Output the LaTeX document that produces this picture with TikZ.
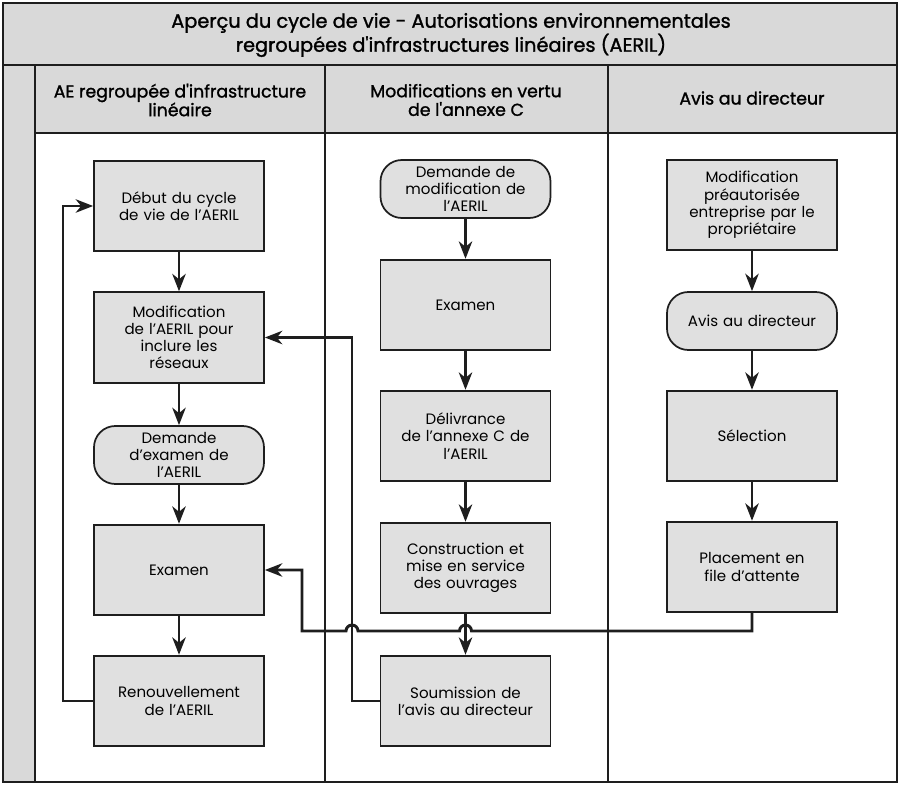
\documentclass[tikz,border=0pt]{standalone}
\usepackage{fontspec}
\setmainfont{Poppins}
\newfontfamily\headfont[FakeBold=1.4]{Poppins}
\usetikzlibrary{arrows.meta,calc}
\definecolor{boxgrey}{HTML}{E0E0E0}
\definecolor{bandgrey}{HTML}{D9D9D9}
\definecolor{inkline}{HTML}{1E1E1E}
\begin{document}
\begin{tikzpicture}[x=0.75pt,y=0.75pt,
    box/.style={draw=inkline,fill=boxgrey,line width=1.3pt,minimum width=127.5pt,minimum height=68pt,
      text width=122pt,align=center,inner sep=2pt,font=\fontsize{11.3}{12.9}\selectfont},
    pill/.style={box,rounded corners=16pt,minimum height=43.5pt},
    head/.style={align=center,font=\headfont\fontsize{13}{14}\selectfont},
    flow/.style={draw=inkline,line width=2.2pt,-{Stealth[length=13pt,width=10pt,inset=4pt]}},
    lane/.style={draw=inkline,line width=1.5pt}]
  \useasboundingbox (0,0) rectangle (900,-785);
  % swimlanes
  \fill[bandgrey] (3,-3) rectangle (897,-65);
  \fill[bandgrey] (3,-65) rectangle (35,-782);
  \fill[bandgrey] (35,-65) rectangle (897,-133);
  \draw[lane] (3,-3) rectangle (897,-782);
  \draw[lane] (3,-65) -- (897,-65);
  \draw[lane] (35,-65) -- (35,-782);
  \draw[lane] (35,-133) -- (897,-133);
  \draw[lane] (325,-65) -- (325,-782);
  \draw[lane] (608,-65) -- (608,-782);
  \node[head,font=\headfont\fontsize{14.5}{18}\selectfont] (title) at (451,-35)
    {Aperçu du cycle de vie - Autorisations environnementales\\regroupées d'infrastructures linéaires (AERIL)};
  \node[head] (lane1) at (180,-100) {AE regroupée d'infrastructure\\linéaire};
  \node[head] (lane2) at (466,-100) {Modifications en vertu\\de l'annexe C};
  \node[head] (lane3) at (752,-98) {Avis au directeur};
  % first lane
  \node[box] (debut) at (179,-206) {Début du cycle\\de vie de l'AERIL};
  \node[box] (modif) at (179,-337.5) {Modification\\de l'AERIL pour\\inclure les\\réseaux};
  \node[pill] (demex) at (179,-455) {Demande\\d'examen de\\l'AERIL};
  \node[box] (exam1) at (179,-570) {Examen};
  \node[box] (renew) at (179,-701) {Renouvellement\\de l'AERIL};
  % second lane
  \node[pill] (dmod) at (465.5,-189) {Demande de\\modification de\\l'AERIL};
  \node[box] (exam2) at (465.5,-305) {Examen};
  \node[box] (deliv) at (465.5,-436) {Délivrance\\de l'annexe C de\\l'AERIL};
  \node[box] (cons) at (465.5,-568) {Construction et\\mise en service\\des ouvrages};
  \node[box] (soum) at (465.5,-701) {Soumission de\\l'avis au directeur};
  % third lane
  \node[box] (preaut) at (752,-205) {Modification\\préautorisée\\entreprise par le\\propriétaire};
  \node[pill] (avis) at (752,-321) {Avis au directeur};
  \node[box] (selec) at (752,-436) {Sélection};
  \node[box] (place) at (752,-567) {Placement en\\file d'attente};
  \foreach \a/\b in {debut/modif, modif/demex, demex/exam1, exam1/renew,
      dmod/exam2, exam2/deliv, deliv/cons, cons/soum,
      preaut/avis, avis/selec, selec/place}
    \draw[flow] (\a) -- (\b);
  % return loops
  \coordinate (loopL) at (63,0);
  \coordinate (loopM) at (352,0);
  \coordinate (loopR) at (302,0);
  \coordinate (runY) at (0,-631);
  \draw[flow] (renew.west) -- (renew.west -| loopL) |- (debut.west);
  \draw[flow] (soum.west) -- (soum.west -| loopM) |- (modif.east);
  \draw[flow] (place.south) |- ($(cons.south |- runY)+(6,0)$)
    arc[start angle=0,end angle=180,radius=6]
    -- ($(loopM |- runY)+(6,0)$) arc[start angle=0,end angle=180,radius=6]
    -- (loopR |- runY) |- (exam1.east);
\end{tikzpicture}
\end{document}
